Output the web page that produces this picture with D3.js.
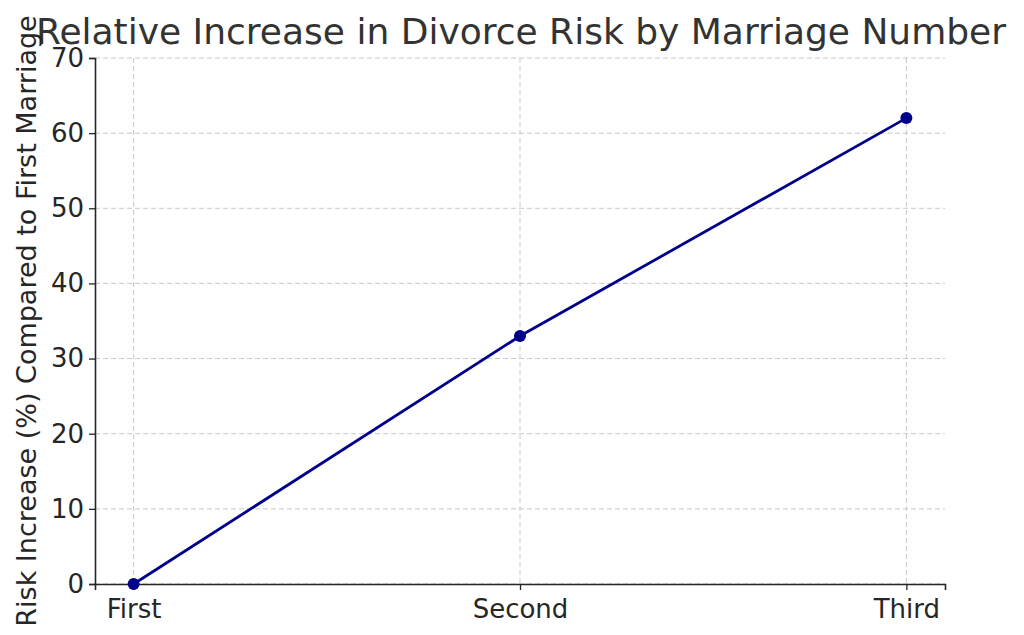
<!DOCTYPE html>
<html>
<head>
<meta charset="utf-8">
<script src="https://cdn.jsdelivr.net/npm/d3@7"></script>
<style>
  body { margin: 0; background: #fff; }
  text { font-family: "DejaVu Sans", sans-serif; }
</style>
</head>
<body>
<div id="viz"></div>
<script>
// chart data
const marriages = ["First", "Second", "Third"]
const riskIncrease = [0, 33, 62]
const yTicks = [0, 10, 20, 30, 40, 50, 60, 70]

const width = 1024
const height = 635
const margin = { top: 58, right: 79, bottom: 51, left: 95 }

const svg = d3.select("#viz").append("svg")
  .attr("width", width)
  .attr("height", height)

const x = d3.scalePoint()
  .domain(marriages)
  .range([margin.left, width - margin.right])
  .padding(0.1)

const y = d3.scaleLinear()
  .domain([0, 70])
  .range([height - margin.bottom, margin.top])

// grid lines
svg.append("g")
  .selectAll("line.h")
  .data(yTicks)
  .enter().append("line")
    .attr("x1", margin.left).attr("x2", width - margin.right)
    .attr("y1", d => y(d)).attr("y2", d => y(d))
    .attr("stroke", "#c8c8c8").attr("stroke-dasharray", "5,3")
svg.append("g")
  .selectAll("line.v")
  .data(marriages)
  .enter().append("line")
    .attr("x1", d => x(d)).attr("x2", d => x(d))
    .attr("y1", margin.top).attr("y2", height - margin.bottom)
    .attr("stroke", "#c8c8c8").attr("stroke-dasharray", "5,3")

// axes
const xAxis = svg.append("g")
  .attr("transform", `translate(0,${height - margin.bottom})`)
  .call(d3.axisBottom(x).tickSize(6).tickPadding(6))
const yAxis = svg.append("g")
  .attr("transform", `translate(${margin.left},0)`)
  .call(d3.axisLeft(y).tickValues(yTicks).tickSize(6).tickPadding(5))

for (const ax of [xAxis, yAxis]) {
  ax.selectAll("text").attr("font-size", 26).attr("fill", "#262626")
    .attr("font-family", "DejaVu Sans, sans-serif")
  ax.select(".domain").attr("stroke", "#262626").attr("stroke-width", 1.6)
  ax.selectAll(".tick line").attr("stroke", "#262626").attr("stroke-width", 1.3)
}
xAxis.selectAll("text").attr("dy", "0.85em")

// line and markers
const line = d3.line()
  .x((d, i) => x(marriages[i]))
  .y(d => y(d))

svg.append("path")
  .datum(riskIncrease)
  .attr("d", line)
  .attr("fill", "none")
  .attr("stroke", "#00008b")
  .attr("stroke-width", 2.8)

svg.selectAll("circle")
  .data(riskIncrease)
  .enter().append("circle")
    .attr("cx", (d, i) => x(marriages[i]))
    .attr("cy", d => y(d))
    .attr("r", 6)
    .attr("fill", "#00008b")

// title and labels
svg.append("text")
  .attr("x", 521)
  .attr("y", 44)
  .attr("text-anchor", "middle")
  .attr("font-size", 36)
  .attr("fill", "#333")
  .text("Relative Increase in Divorce Risk by Marriage Number")

svg.append("text")
  .attr("transform", `translate(36,321) rotate(-90)`)
  .attr("text-anchor", "middle")
  .attr("font-size", 27)
  .attr("fill", "#262626")
  .text("Risk Increase (%) Compared to First Marriage")
</script>
</body>
</html>
